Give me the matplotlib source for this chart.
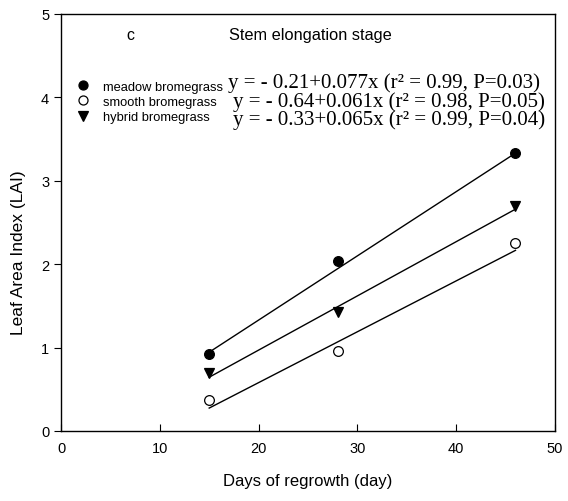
import matplotlib
matplotlib.use("Agg")
import matplotlib.pyplot as plt
import numpy as np
from matplotlib.lines import Line2D

plt.rcParams['font.family'] = ['Liberation Sans', 'DejaVu Sans']

days = [15, 28, 46]
series = ["meadow bromegrass", "smooth bromegrass", "hybrid bromegrass"]
meadow = [0.92, 2.04, 3.33]
smooth = [0.37, 0.96, 2.26]
hybrid = [0.69, 1.43, 2.70]
intercepts = [-0.21, -0.64, -0.33]
slopes = [0.077, 0.061, 0.065]
equations = [
    "y = - 0.21+0.077x (r\u00b2 = 0.99, P=0.03)",
    "y = - 0.64+0.061x (r\u00b2 = 0.98, P=0.05)",
    "y = - 0.33+0.065x (r\u00b2 = 0.99, P=0.04)",
]
xticks = [0, 10, 20, 30, 40, 50]
yticks = [0, 1, 2, 3, 4, 5]

fig = plt.figure(figsize=(5.68, 5.02), dpi=100)
ax = fig.add_axes([61/568, 70/502, 494/568, 417/502])

styles = [
    dict(marker='o', mfc='black', mec='black'),
    dict(marker='o', mfc='white', mec='black'),
    dict(marker='v', mfc='black', mec='black'),
]
values = [meadow, smooth, hybrid]
xs = np.array([days[0], days[-1]])
for vals, st, b0, b1 in zip(values, styles, intercepts, slopes):
    ax.plot(xs, b0 + b1 * xs, color='black', lw=1.0, zorder=2)
    ax.plot(days, vals, ls='none', ms=7, mew=0.9, zorder=3, **st)

handles = [Line2D([], [], ls='none', ms=6.5, mew=0.9, **st) for st in styles]
leg = ax.legend(handles, series, loc='center left', bbox_to_anchor=(0.031, 0.789),
                frameon=False, fontsize=9.3, handlelength=1.0, handletextpad=1.1,
                labelspacing=0.25, borderaxespad=0.0, borderpad=0.0)

eq_y = [0.836, 0.791, 0.748]
eq_x = [0.338, 0.348, 0.348]
for ex, ey, eq in zip(eq_x, eq_y, equations):
    ax.text(ex, ey, eq, transform=ax.transAxes, fontsize=15.0,
            family=['Liberation Serif', 'DejaVu Serif'], va='center', ha='left')

ax.text(0.14, 0.952, "c", transform=ax.transAxes, fontsize=11.5, ha='center', va='center')
ax.text(0.505, 0.952, "Stem elongation stage", transform=ax.transAxes, fontsize=11.8,
        ha='center', va='center')

ax.set_xlim(0, 50)
ax.set_ylim(0, 5)
ax.set_xticks(xticks)
ax.set_yticks(yticks)
ax.tick_params(axis='x', direction='in', length=5, labelsize=10.5, pad=7)
ax.tick_params(axis='y', direction='out', length=5, labelsize=10.5)
for s in ax.spines.values():
    s.set_linewidth(1.0)
ax.set_xlabel("Days of regrowth (day)", fontsize=12, labelpad=13)
ax.set_ylabel("Leaf Area Index (LAI)", fontsize=12.5)
ax.yaxis.set_label_coords(-0.07, 0.43)

fig.savefig("out.png", dpi=100)
